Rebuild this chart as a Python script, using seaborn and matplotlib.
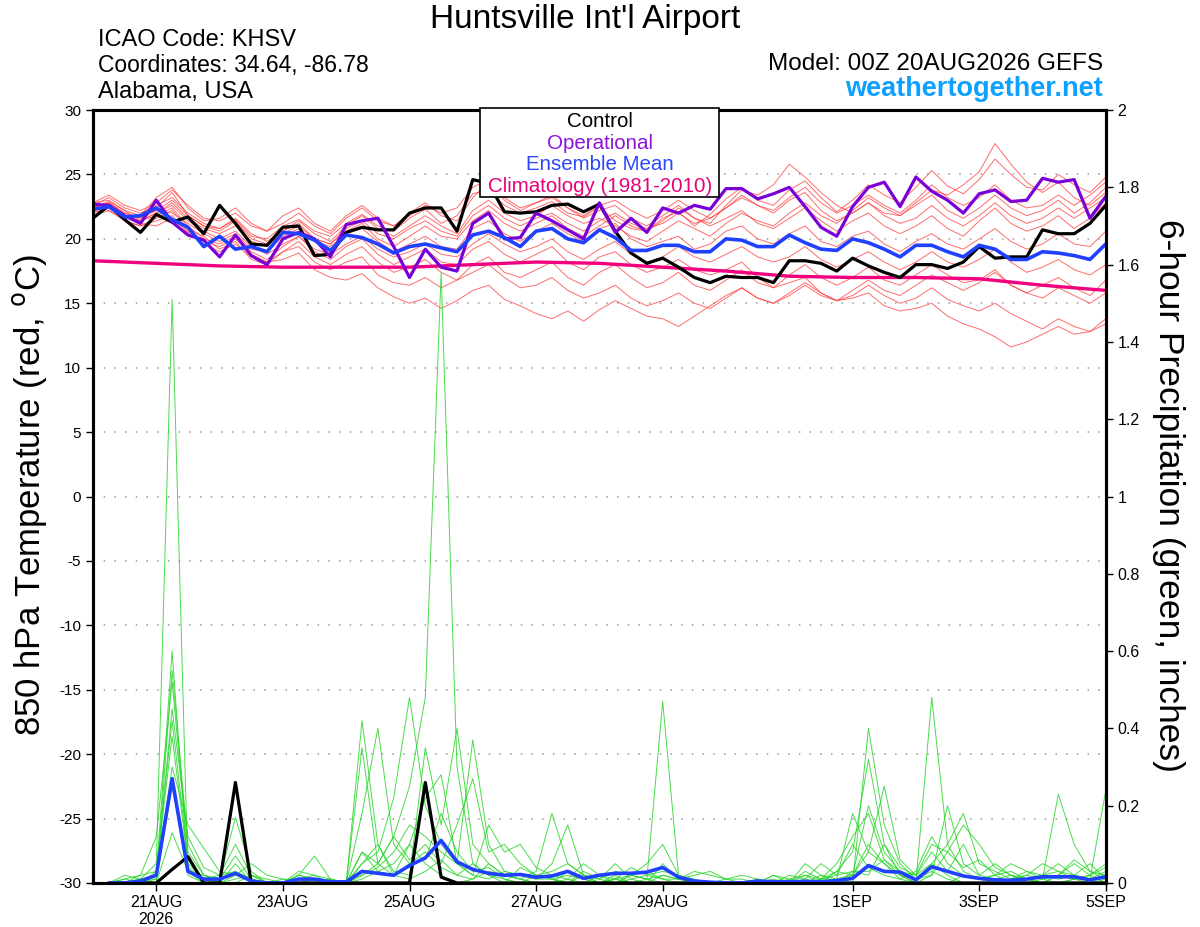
import numpy as np
import pandas as pd
import matplotlib
matplotlib.use('Agg')
import matplotlib.pyplot as plt
from matplotlib.patches import Rectangle
from matplotlib.ticker import FuncFormatter
import seaborn as sns

# forecast times: 00Z 20AUG2026, every 6 hours out to 384 h
start = pd.Timestamp('2026-08-20 00:00')
times = pd.date_range(start, periods=65, freq='6h')
clim_times = pd.date_range(start, periods=17, freq='1D')

# 850 hPa temperature (C)
control = [21.6, 22.6, 21.5, 20.5, 21.9, 21.3, 21.7, 20.4, 22.6, 21.2,
           19.6, 19.5, 20.9, 21.0, 18.7, 18.8, 20.5, 20.9, 20.7, 20.7,
           22.0, 22.4, 22.4, 20.6, 24.6, 24.3, 22.1, 22.0, 22.1, 22.6,
           22.7, 22.1, 22.7, 20.6, 18.9, 18.1, 18.5, 17.8, 17.0, 16.6,
           17.1, 17.0, 17.0, 16.6, 18.3, 18.3, 18.1, 17.5, 18.5, 17.9,
           17.4, 17.0, 18.0, 18.0, 17.7, 18.2, 19.4, 18.5, 18.6, 18.6,
           20.7, 20.4, 20.4, 21.2, 22.6]
operational = [22.7, 22.6, 21.8, 21.2, 23.0, 21.3, 20.3, 19.9, 18.6, 20.3,
               18.7, 18.0, 20.0, 20.5, 20.0, 18.6, 21.1, 21.4, 21.6, 19.4,
               17.0, 19.2, 17.8, 17.5, 21.2, 22.0, 20.0, 20.1, 22.0, 21.4,
               20.7, 20.0, 22.8, 20.5, 21.6, 20.5, 22.4, 22.0, 22.6, 22.3,
               23.9, 23.9, 23.1, 23.5, 24.0, 22.5, 20.9, 20.2, 22.5, 24.0,
               24.4, 22.5, 24.8, 23.7, 23.0, 22.0, 23.5, 23.8, 22.9, 23.0,
               24.7, 24.4, 24.6, 21.6, 23.3]
ens_mean = [22.3, 22.5, 21.7, 21.8, 22.4, 21.5, 20.9, 19.4, 20.2, 19.2,
            19.4, 19.0, 20.5, 20.4, 19.9, 19.1, 20.3, 20.1, 19.6, 18.9,
            19.4, 19.6, 19.3, 19.0, 20.3, 20.6, 20.1, 19.4, 20.6, 20.8,
            20.0, 19.7, 20.7, 20.1, 19.1, 19.1, 19.5, 19.5, 19.0, 19.0,
            20.0, 19.9, 19.4, 19.4, 20.3, 19.7, 19.2, 19.1, 20.0, 19.7,
            19.2, 18.6, 19.5, 19.5, 19.0, 18.6, 19.5, 19.2, 18.4, 18.4,
            19.0, 18.9, 18.7, 18.4, 19.6]
climatology = [18.3, 18.1, 17.9, 17.8, 17.8, 17.8, 18.0, 18.2, 18.1,
               17.8, 17.5, 17.1, 17.0, 17.0, 16.9, 16.4, 16.0]

members = {
    'm01': [22.5, 22.8, 22.0, 21.6, 22.4, 23.6, 21.8, 21.0, 20.8, 21.5, 20.2, 20.0, 21.0, 21.5, 20.6, 20.2,
            21.2, 21.9, 21.0, 20.6, 21.6, 22.3, 21.2, 21.8, 23.5, 23.8, 22.6, 22.0, 22.4, 22.9, 22.0, 21.7,
            22.5, 21.4, 20.8, 20.6, 21.6, 22.1, 21.0, 21.9, 23.1, 24.0, 23.0, 22.6, 23.8, 24.5, 23.2, 22.1,
            23.0, 24.2, 23.4, 22.8, 24.0, 25.3, 24.1, 23.5, 24.6, 26.2, 25.0, 24.0, 23.8, 25.0, 24.2, 23.6, 24.8],
    'm02': [22.0, 22.4, 21.8, 21.2, 21.0, 21.6, 20.5, 19.6, 19.0, 19.6, 18.6, 18.2, 18.4, 18.9, 17.6, 17.0,
            16.8, 17.3, 16.2, 15.5, 15.0, 15.4, 14.6, 15.2, 16.0, 16.4, 15.3, 14.8, 14.2, 13.8, 14.4, 13.6,
            14.5, 15.2, 14.6, 14.0, 13.8, 13.2, 14.0, 14.8, 15.6, 16.2, 15.4, 15.0, 15.8, 16.6, 15.8, 15.2,
            15.6, 16.4, 15.6, 15.0, 15.4, 16.2, 15.3, 14.8, 14.4, 15.0, 14.2, 13.6, 13.0, 13.8, 13.2, 12.8, 13.4],
    'm03': [22.6, 22.2, 21.6, 21.8, 22.2, 22.0, 21.2, 20.4, 19.8, 20.4, 19.2, 19.0, 20.2, 20.8, 19.8, 19.4,
            20.4, 20.8, 19.8, 19.0, 19.6, 20.2, 19.4, 19.2, 20.8, 21.4, 20.4, 19.8, 20.6, 21.2, 20.4, 19.8,
            20.8, 21.2, 20.0, 19.4, 19.8, 20.2, 19.2, 19.6, 20.6, 21.0, 20.0, 19.6, 20.4, 21.0, 19.8, 19.4,
            20.2, 20.6, 19.6, 19.0, 19.8, 20.4, 19.6, 19.2, 20.0, 20.8, 19.8, 19.2, 19.6, 20.4, 19.6, 19.4, 20.6],
    'm04': [22.8, 23.0, 22.2, 21.8, 23.2, 24.0, 22.4, 21.4, 21.6, 22.4, 21.2, 20.6, 21.8, 22.4, 21.2, 20.6,
            21.8, 22.6, 21.6, 21.0, 22.0, 22.8, 21.8, 21.4, 23.2, 24.4, 23.0, 22.2, 22.8, 23.2, 22.4, 21.6,
            22.2, 22.6, 21.6, 21.0, 21.8, 22.6, 21.6, 21.0, 21.6, 22.2, 21.2, 20.8, 21.6, 22.4, 21.4, 20.6,
            21.4, 22.0, 21.0, 20.4, 21.0, 21.8, 20.8, 20.2, 21.4, 22.4, 21.2, 20.6, 21.0, 21.8, 20.8, 21.6, 22.8],
    'm05': [22.2, 22.6, 21.4, 21.0, 21.6, 22.2, 20.8, 20.2, 19.2, 19.8, 18.4, 18.0, 19.0, 19.4, 18.2, 17.6,
            18.2, 18.6, 17.2, 16.6, 16.4, 17.0, 16.2, 16.8, 18.0, 18.6, 17.4, 17.0, 17.6, 18.2, 17.0, 16.4,
            17.4, 18.0, 17.0, 16.2, 16.6, 17.4, 16.4, 16.0, 16.8, 17.6, 16.6, 16.2, 17.2, 18.0, 17.0, 16.4,
            17.0, 17.8, 16.8, 16.4, 17.2, 18.0, 17.2, 16.6, 16.8, 17.6, 16.4, 15.8, 16.4, 17.0, 16.2, 15.6, 16.8],
    'm06': [22.4, 22.9, 22.2, 21.4, 22.0, 22.8, 21.6, 20.8, 20.4, 21.0, 19.8, 19.4, 20.6, 21.2, 20.0, 19.6,
            20.8, 21.4, 20.4, 20.0, 20.8, 21.4, 20.6, 20.2, 21.8, 22.6, 21.6, 21.0, 21.6, 22.0, 21.2, 20.6,
            21.4, 22.0, 21.2, 20.8, 21.2, 22.0, 21.2, 21.6, 22.4, 23.2, 22.6, 22.0, 23.0, 23.6, 22.2, 21.4,
            22.0, 22.8, 22.0, 21.8, 22.8, 23.8, 23.4, 24.2, 25.2, 27.4, 25.8, 24.4, 23.6, 24.4, 23.2, 22.6, 23.6],
    'm07': [22.0, 22.5, 21.8, 21.4, 21.8, 22.4, 21.0, 20.0, 19.6, 20.2, 19.0, 18.4, 19.4, 20.2, 19.0, 18.4,
            19.4, 20.0, 18.8, 18.0, 18.6, 19.2, 18.2, 18.0, 19.2, 19.8, 18.8, 18.2, 18.8, 19.4, 18.2, 17.6,
            18.6, 19.0, 18.0, 17.4, 17.8, 18.4, 17.6, 17.2, 17.6, 18.2, 17.0, 16.2, 16.6, 17.0, 15.8, 15.2,
            15.4, 15.8, 14.8, 14.4, 14.6, 15.0, 14.0, 13.4, 13.0, 12.4, 11.6, 12.0, 12.6, 13.2, 12.6, 12.8, 13.8],
    'm08': [22.6, 23.2, 22.4, 22.0, 22.6, 23.2, 22.0, 21.2, 20.8, 21.6, 20.4, 19.8, 20.6, 21.4, 20.4, 19.8,
            21.0, 21.8, 20.8, 20.2, 21.0, 21.8, 21.0, 20.4, 22.2, 23.0, 22.0, 21.4, 21.8, 22.6, 21.8, 21.2,
            21.6, 21.0, 20.2, 19.8, 20.6, 21.4, 20.8, 20.2, 21.2, 22.0, 21.4, 21.0, 22.0, 22.8, 21.8, 21.2,
            22.2, 23.2, 22.4, 21.8, 22.6, 23.4, 22.2, 21.6, 22.4, 23.4, 22.4, 21.8, 22.2, 23.0, 22.0, 22.8, 24.0],
    'm09': [21.8, 22.2, 21.4, 21.0, 21.4, 21.8, 20.6, 19.8, 19.4, 20.0, 18.8, 18.2, 19.0, 19.8, 18.6, 18.0,
            18.8, 19.4, 18.2, 17.4, 17.8, 18.4, 17.4, 16.8, 17.4, 18.0, 17.0, 16.2, 16.4, 17.0, 16.0, 15.4,
            15.8, 16.4, 15.4, 14.8, 15.2, 15.8, 15.0, 14.6, 15.4, 16.2, 15.4, 15.0, 15.6, 16.4, 15.6, 15.2,
            16.0, 16.8, 16.0, 15.6, 16.4, 17.2, 16.6, 16.0, 16.6, 17.4, 16.4, 15.8, 15.4, 16.2, 15.6, 15.0, 15.8],
    'm10': [22.8, 23.4, 22.6, 22.2, 22.8, 23.8, 22.6, 21.6, 21.4, 22.0, 21.0, 20.6, 21.2, 22.0, 21.0, 20.4,
            21.6, 22.4, 21.4, 21.0, 21.8, 22.6, 22.0, 22.4, 24.0, 24.6, 23.2, 22.4, 22.8, 23.4, 22.4, 21.8,
            22.6, 23.0, 22.2, 21.6, 22.2, 23.0, 22.2, 21.6, 22.4, 23.4, 22.6, 22.2, 23.2, 24.0, 22.8, 22.0,
            22.6, 23.4, 22.6, 22.0, 23.0, 24.2, 23.2, 22.6, 23.2, 24.2, 23.0, 22.4, 22.6, 23.4, 22.6, 23.4, 24.4],
    'm11': [22.2, 22.6, 21.8, 21.4, 22.0, 22.6, 21.4, 20.6, 20.0, 20.6, 19.4, 18.8, 19.6, 20.2, 19.2, 18.8,
            19.6, 20.2, 19.2, 18.6, 19.0, 19.6, 18.8, 18.6, 19.6, 20.4, 19.6, 19.0, 19.4, 20.0, 19.0, 18.4,
            19.2, 19.8, 18.8, 18.2, 18.6, 19.4, 18.6, 18.2, 18.8, 19.4, 18.6, 18.2, 18.6, 19.4, 18.4, 17.8,
            18.4, 19.0, 18.2, 17.6, 18.2, 19.0, 18.2, 17.8, 18.4, 19.2, 18.2, 17.4, 17.8, 18.4, 17.6, 17.2, 18.0],
    'm12': [22.4, 22.8, 22.0, 21.6, 22.2, 23.0, 21.8, 21.0, 20.6, 21.4, 20.0, 19.6, 20.4, 21.0, 20.0, 19.6,
            20.6, 21.2, 20.0, 19.4, 20.2, 21.0, 20.2, 20.0, 21.4, 22.2, 21.2, 20.6, 21.2, 21.8, 20.8, 20.2,
            21.0, 21.8, 21.0, 20.6, 21.4, 22.4, 21.6, 21.2, 22.6, 23.8, 23.4, 24.2, 25.8, 24.8, 23.6, 22.6,
            22.0, 22.8, 21.8, 21.2, 21.6, 22.6, 21.6, 21.0, 21.8, 22.8, 21.8, 21.2, 21.6, 22.4, 21.6, 22.4, 23.2],
}

# 6-hour precipitation (inches), valid 06Z 20AUG onward
control_precip = [0, 0, 0, 0, 0.035, 0.068, 0, 0, 0.26, 0, 0, 0, 0, 0, 0, 0,
                  0, 0, 0, 0, 0.26, 0.015, 0, 0, 0, 0, 0, 0, 0, 0, 0, 0,
                  0, 0, 0, 0, 0, 0, 0, 0, 0, 0, 0, 0, 0, 0, 0, 0,
                  0, 0, 0, 0, 0, 0, 0, 0, 0, 0, 0, 0, 0, 0, 0, 0]
mean_precip = [0, 0, 0.005, 0.02, 0.27, 0.03, 0.01, 0.01, 0.025, 0.005, 0, 0, 0.01, 0.01, 0.003, 0.003,
               0.03, 0.025, 0.02, 0.045, 0.065, 0.11, 0.055, 0.035, 0.025, 0.02, 0.022, 0.015, 0.018, 0.03, 0.012, 0.02,
               0.025, 0.025, 0.028, 0.04, 0.015, 0.005, 0.002, 0, 0, 0.005, 0.003, 0.003, 0.004, 0.003, 0.006, 0.012,
               0.045, 0.03, 0.028, 0.008, 0.042, 0.03, 0.018, 0.012, 0.008, 0.007, 0.01, 0.016, 0.016, 0.016, 0.008, 0.016]

precip_members = {
    'p01': [0, 0, 0.01, 0.05, 1.51, 0.02, 0, 0, 0.02, 0.01, 0, 0, 0, 0, 0, 0,
            0.35, 0.05, 0.02, 0.10, 0.05, 0.02, 0, 0.01, 0.05, 0.02, 0.01, 0, 0, 0.03, 0.01, 0,
            0, 0.02, 0.01, 0.47, 0.02, 0, 0, 0, 0, 0, 0, 0.01, 0.02, 0.01, 0.05, 0.12,
            0.18, 0.06, 0.02, 0.01, 0.03, 0.01, 0, 0, 0, 0.01, 0.02, 0.05, 0.03, 0.02, 0.01, 0.03],
    'p02': [0, 0, 0, 0.02, 0.60, 0.03, 0, 0, 0.05, 0, 0, 0, 0, 0.01, 0, 0,
            0.02, 0.05, 0.12, 0.25, 0.48, 1.58, 0.30, 0.05, 0.02, 0.01, 0, 0, 0, 0, 0.02, 0,
            0.01, 0, 0, 0, 0, 0, 0, 0, 0, 0, 0, 0, 0, 0.01, 0.03, 0.02,
            0.10, 0.05, 0.01, 0, 0, 0, 0.02, 0.01, 0, 0, 0, 0, 0, 0.01, 0, 0.01],
    'p03': [0, 0.01, 0.02, 0.12, 0.52, 0.08, 0.02, 0.01, 0.17, 0.03, 0, 0, 0.03, 0.02, 0, 0,
            0.18, 0.40, 0.10, 0.05, 0.08, 0.04, 0.02, 0.05, 0.02, 0, 0.04, 0.02, 0.01, 0, 0, 0.02,
            0, 0.01, 0, 0.05, 0.01, 0, 0, 0, 0, 0, 0.02, 0.01, 0, 0.02, 0.01, 0.18,
            0.08, 0.05, 0.02, 0, 0.48, 0.10, 0.03, 0.01, 0.02, 0, 0.01, 0, 0.02, 0.05, 0.02, 0],
    'p04': [0, 0, 0.01, 0.02, 0.45, 0.12, 0.04, 0.02, 0.03, 0.01, 0, 0, 0.02, 0.07, 0.01, 0,
            0.05, 0.08, 0.22, 0.48, 0.20, 0.10, 0.05, 0.37, 0.10, 0.03, 0.02, 0.01, 0.05, 0.15, 0.02, 0.01,
            0.03, 0.02, 0.01, 0, 0, 0, 0, 0, 0, 0, 0, 0.02, 0.01, 0, 0, 0,
            0.40, 0.15, 0.05, 0.01, 0.05, 0.02, 0, 0, 0, 0.01, 0.03, 0.02, 0.05, 0.02, 0.01, 0.24],
    'p05': [0, 0.01, 0, 0.03, 0.38, 0.05, 0.01, 0.02, 0.10, 0.02, 0, 0.01, 0, 0, 0.01, 0,
            0.42, 0.10, 0.03, 0.02, 0.35, 0.15, 0.40, 0.10, 0.05, 0.02, 0.01, 0.03, 0.18, 0.05, 0.02, 0,
            0.01, 0.02, 0.05, 0.10, 0.02, 0, 0, 0, 0, 0, 0, 0, 0, 0, 0.03, 0.08,
            0.32, 0.10, 0.02, 0, 0.02, 0.20, 0.05, 0.02, 0.05, 0.02, 0, 0.01, 0.23, 0.10, 0.03, 0.02],
    'p06': [0, 0, 0, 0.01, 0.30, 0.15, 0.09, 0.03, 0.02, 0.05, 0.02, 0.01, 0.01, 0.02, 0.01, 0,
            0.08, 0.05, 0.12, 0.06, 0.10, 0.05, 0.15, 0.27, 0.08, 0.10, 0.05, 0.02, 0.01, 0.02, 0.01, 0,
            0.02, 0, 0.01, 0.02, 0.01, 0, 0, 0, 0, 0, 0.01, 0, 0.02, 0, 0.01, 0.02,
            0.20, 0.08, 0.03, 0.01, 0.02, 0.08, 0.15, 0.10, 0.04, 0.02, 0.01, 0.02, 0.01, 0.02, 0.05, 0.01],
    'p07': [0, 0, 0.01, 0.01, 0.25, 0.04, 0.01, 0, 0, 0.02, 0.01, 0, 0.02, 0.01, 0, 0,
            0.02, 0.04, 0.08, 0.15, 0.12, 0.08, 0.05, 0.02, 0.15, 0.08, 0.10, 0.04, 0.02, 0.01, 0.05, 0.02,
            0.01, 0, 0, 0.02, 0.01, 0.02, 0.03, 0.01, 0, 0.01, 0, 0, 0.01, 0.05, 0.02, 0.03,
            0.02, 0.10, 0.04, 0.02, 0.05, 0.10, 0.18, 0.05, 0.03, 0.01, 0.02, 0.01, 0.02, 0.06, 0.03, 0.01],
    'p08': [0, 0.02, 0.01, 0, 0.13, 0.03, 0.02, 0.01, 0.07, 0.01, 0, 0, 0.02, 0.01, 0, 0,
            0.01, 0.03, 0.05, 0.10, 0.22, 0.28, 0.05, 0.02, 0.01, 0.03, 0.02, 0.01, 0.01, 0, 0.03, 0.01,
            0, 0.02, 0.03, 0.01, 0.01, 0.03, 0.02, 0.01, 0.01, 0, 0.02, 0, 0.03, 0.01, 0.01, 0.02,
            0.08, 0.25, 0.06, 0.02, 0.08, 0.03, 0.10, 0.02, 0.01, 0.02, 0.01, 0.02, 0.03, 0.01, 0.02, 0.04],
    'p09': [0, 0, 0, 0, 0.55, 0.10, 0.02, 0, 0, 0, 0, 0, 0, 0, 0, 0,
            0.05, 0.10, 0.02, 0.01, 0.03, 0.06, 0.02, 0.01, 0.03, 0.02, 0.01, 0, 0, 0.01, 0, 0,
            0.01, 0.04, 0.02, 0.01, 0, 0, 0, 0.01, 0.02, 0.01, 0, 0, 0, 0.01, 0.02, 0.10,
            0.04, 0.02, 0.01, 0.03, 0.12, 0.05, 0.02, 0.01, 0.02, 0.05, 0.03, 0.01, 0, 0.01, 0.02, 0.05],
    'p10': [0, 0, 0.02, 0.03, 0.42, 0.06, 0.01, 0, 0.01, 0.02, 0, 0, 0, 0, 0.01, 0,
            0.08, 0.03, 0.02, 0.05, 0.06, 0.18, 0.08, 0.03, 0.04, 0.01, 0, 0.02, 0.03, 0.05, 0.02, 0.01,
            0.05, 0.01, 0.02, 0.03, 0.02, 0.01, 0, 0, 0, 0, 0, 0, 0.05, 0.02, 0, 0.03,
            0.03, 0.06, 0.03, 0.02, 0.10, 0.08, 0.04, 0.06, 0.02, 0.03, 0.01, 0, 0.02, 0.01, 0.01, 0.02],
}

precip_times = times[1:]

temp_df = pd.DataFrame([
    {'time': t, 'member': k, 'temp': val}
    for k, vals in members.items() for t, val in zip(times, vals)
])
precip_df = pd.DataFrame([
    {'time': t, 'member': k, 'precip': val}
    for k, vals in precip_members.items() for t, val in zip(precip_times, vals)
])

sns.set_style('ticks')
plt.rcParams['font.family'] = ['Liberation Sans', 'DejaVu Sans']
plt.rcParams['axes.unicode_minus'] = False
for key in ('text.color', 'axes.labelcolor', 'xtick.color', 'ytick.color', 'axes.edgecolor'):
    plt.rcParams[key] = 'black'

fig = plt.figure(figsize=(12, 9.27), dpi=100)
ax = fig.add_axes([0.0775, 0.0475, 0.844, 0.8338])
ax2 = ax.twinx()

# temperature
sns.lineplot(data=temp_df, x='time', y='temp', units='member', estimator=None,
             color='#ff3b3b', alpha=0.75, lw=0.7, ax=ax, legend=False)
sns.lineplot(x=clim_times, y=climatology, color='#f0007f', lw=2.4, ax=ax)
sns.lineplot(x=times, y=control, color='black', lw=2.3, ax=ax)
sns.lineplot(x=times, y=operational, color='#7a00d8', lw=2.3, ax=ax)
sns.lineplot(x=times, y=ens_mean, color='#2040ff', lw=2.6, ax=ax)

# precipitation
sns.lineplot(data=precip_df, x='time', y='precip', units='member', estimator=None,
             color='#2ad62a', alpha=0.85, lw=0.7, ax=ax2, legend=False)
sns.lineplot(x=precip_times, y=control_precip, color='black', lw=2.3, ax=ax2)
sns.lineplot(x=precip_times, y=mean_precip, color='#2040ff', lw=2.6, ax=ax2)

ax.set_xlim(times[0], times[-1])
ax.set_ylim(-30, 30)
ax2.set_ylim(0, 2)
ax.set_yticks(np.arange(-30, 31, 5))
ax2.set_yticks(np.arange(0, 2.01, 0.2))
ax2.yaxis.set_major_formatter(FuncFormatter(lambda v, p: '%g' % round(v, 1)))

tick_days = pd.to_datetime(['2026-08-21', '2026-08-23', '2026-08-25', '2026-08-27',
                            '2026-08-29', '2026-09-01', '2026-09-03', '2026-09-05'])
tick_labels = ['21AUG\n2026', '23AUG', '25AUG', '27AUG', '29AUG', '1SEP', '3SEP', '5SEP']
ax.set_xticks(tick_days)
ax.set_xticklabels(tick_labels, fontsize=11.5, linespacing=1.1)
ax.tick_params(axis='y', labelsize=11, length=5, width=1)
ax.tick_params(axis='x', length=6, width=1, pad=3)
ax2.tick_params(axis='y', labelsize=11.5, length=5, width=1)
ax.set_xlabel('')
ax.set_ylabel('')
ax2.set_ylabel('')

ax.yaxis.grid(True, linestyle=(0, (1, 6)), color='#9a9a9a', lw=1.1)
ax.set_axisbelow(True)
for a in (ax, ax2):
    for s in a.spines.values():
        s.set_linewidth(2.2)
        s.set_color('black')

# header text
fig.text(0.4875, 0.979, "Huntsville Int'l Airport", ha='center', va='center', fontsize=24)
fig.text(0.082, 0.957, 'ICAO Code: KHSV', ha='left', va='center', fontsize=17)
fig.text(0.082, 0.929, 'Coordinates: 34.64, -86.78', ha='left', va='center', fontsize=16.5)
fig.text(0.082, 0.901, 'Alabama, USA', ha='left', va='center', fontsize=17)
fig.text(0.919, 0.931, 'Model: 00Z 20AUG2026 GEFS', ha='right', va='center', fontsize=17.5)
fig.text(0.919, 0.904, 'weathertogether.net', ha='right', va='center', fontsize=19.5,
         fontweight='bold', color='#0ea0ff')

fig.text(0.025, 0.466, '850 hPa Temperature (red, $^\\mathrm{o}$C)', rotation=90,
         ha='center', va='center', fontsize=25)
fig.text(0.974, 0.466, '6-hour Precipitation (green, inches)', rotation=270,
         ha='center', va='center', fontsize=25.5)

# legend box
fig.add_artist(Rectangle((0.4, 0.7875), 0.199, 0.096, transform=fig.transFigure,
                         facecolor='white', edgecolor='black', lw=1.2, zorder=2))
legend_items = [('Control', 'black'), ('Operational', '#8a14dc'),
                ('Ensemble Mean', '#2a48ff'), ('Climatology (1981-2010)', '#e8007a')]
for k, (label, col) in enumerate(legend_items):
    fig.text(0.5, 0.8685 - k * 0.0232, label, ha='center', va='center',
             fontsize=14.8, color=col, zorder=3)

fig.savefig('out.png', dpi=100)
